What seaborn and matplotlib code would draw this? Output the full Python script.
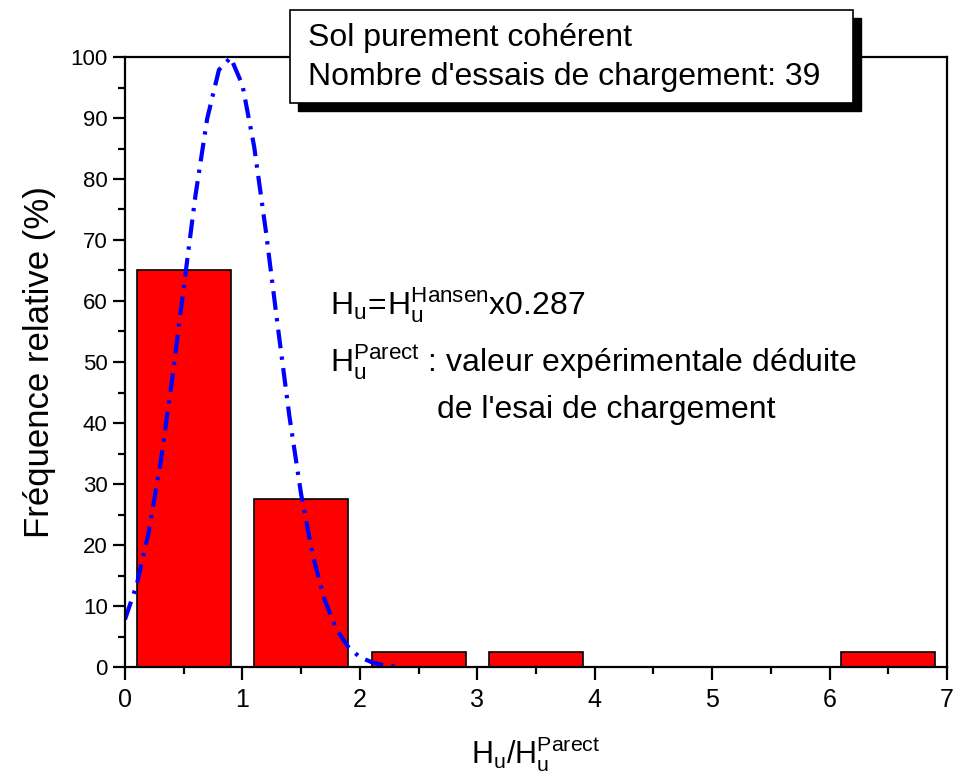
import matplotlib.pyplot as plt
import seaborn as sns
from matplotlib.ticker import MultipleLocator
from matplotlib.patches import Rectangle

# histogram of Hu / Hu_Parect (39 load tests)
bin_centres = [0.5, 1.5, 2.5, 3.5, 6.5]
freq_pct = [65.0, 27.5, 2.5, 2.5, 2.5]

# fitted curve
fit_x = [0.0, 0.1, 0.2, 0.3, 0.4, 0.5, 0.6, 0.7, 0.8, 0.9, 1.0, 1.1,
         1.2, 1.3, 1.4, 1.5, 1.6, 1.7, 1.8, 1.9, 2.0, 2.1, 2.2, 2.3]
fit_y = [7.8, 13.5, 21.9, 33.1, 46.9, 62.2, 77.3, 89.9, 97.9, 99.9, 95.4, 85.3,
         71.4, 56.0, 41.1, 28.3, 18.2, 11.0, 6.2, 3.3, 1.6, 0.8, 0.3, 0.1]

sns.set_style('ticks')
plt.rcParams['font.family'] = ['Liberation Sans', 'DejaVu Sans']
plt.rcParams['mathtext.fontset'] = 'custom'
plt.rcParams['mathtext.rm'] = 'Liberation Sans'
for k in ['text.color', 'axes.labelcolor', 'xtick.color', 'ytick.color',
          'axes.edgecolor']:
    plt.rcParams[k] = 'black'

W, H = 955, 780
fig = plt.figure(figsize=(W / 100, H / 100), dpi=100)
ax = fig.add_axes([125 / W, 1 - 667 / H, (947 - 125) / W, (667 - 57) / H])

sns.barplot(x=bin_centres, y=freq_pct, native_scale=True, width=0.8,
            color='red', saturation=1, edgecolor='black', linewidth=1.2,
            errorbar=None, ax=ax)
sns.lineplot(x=fit_x, y=fit_y, color='blue', linewidth=3,
             linestyle=(0, (4.5, 2, 0.8, 2)), ax=ax)

ax.set_xlim(0, 7)
ax.set_ylim(0, 100)
ax.xaxis.set_major_locator(MultipleLocator(1))
ax.xaxis.set_minor_locator(MultipleLocator(0.5))
ax.yaxis.set_major_locator(MultipleLocator(10))
ax.yaxis.set_minor_locator(MultipleLocator(5))
ax.tick_params(which='major', direction='out', length=9, width=1.6,
               top=False, right=False)
ax.tick_params(which='minor', direction='out', length=5, width=1.6,
               top=False, right=False)
ax.tick_params(axis='x', labelsize=18, pad=6)
ax.tick_params(axis='y', labelsize=16)
for s in ax.spines.values():
    s.set_linewidth(1.6)

ax.set_xlabel(r'$\mathregular{H_u/H_u^{Parect}}$', fontsize=22, labelpad=16)
ax.set_ylabel('Fréquence relative (%)', fontsize=25, labelpad=10)

ax.text(0.249, 0.593, r'$\mathregular{H_u\!=\!H_u^{Hansen}x0.287}$',
        transform=ax.transAxes, fontsize=23, va='center')
ax.text(0.249, 0.5, r'$\mathregular{H_u^{Parect}}$ : valeur expérimentale déduite',
        transform=ax.transAxes, fontsize=23, va='center')
ax.text(0.38, 0.421, "de l'esai de chargement",
        transform=ax.transAxes, fontsize=23, va='center')

# title box with drop shadow
fig.add_artist(Rectangle((298 / W, 1 - 111 / H), 563 / W, 93 / H,
                         transform=fig.transFigure, facecolor='black',
                         edgecolor='black', zorder=5))
fig.add_artist(Rectangle((290 / W, 1 - 103 / H), 563 / W, 93 / H,
                         transform=fig.transFigure, facecolor='white',
                         edgecolor='black', linewidth=1.2, zorder=6))
fig.text(308 / W, 1 - 38 / H, 'Sol purement cohérent', fontsize=23,
         va='center', zorder=7)
fig.text(308 / W, 1 - 77 / H, "Nombre d'essais de chargement: 39", fontsize=23,
         va='center', zorder=7)

plt.savefig('out.png', dpi=100)
